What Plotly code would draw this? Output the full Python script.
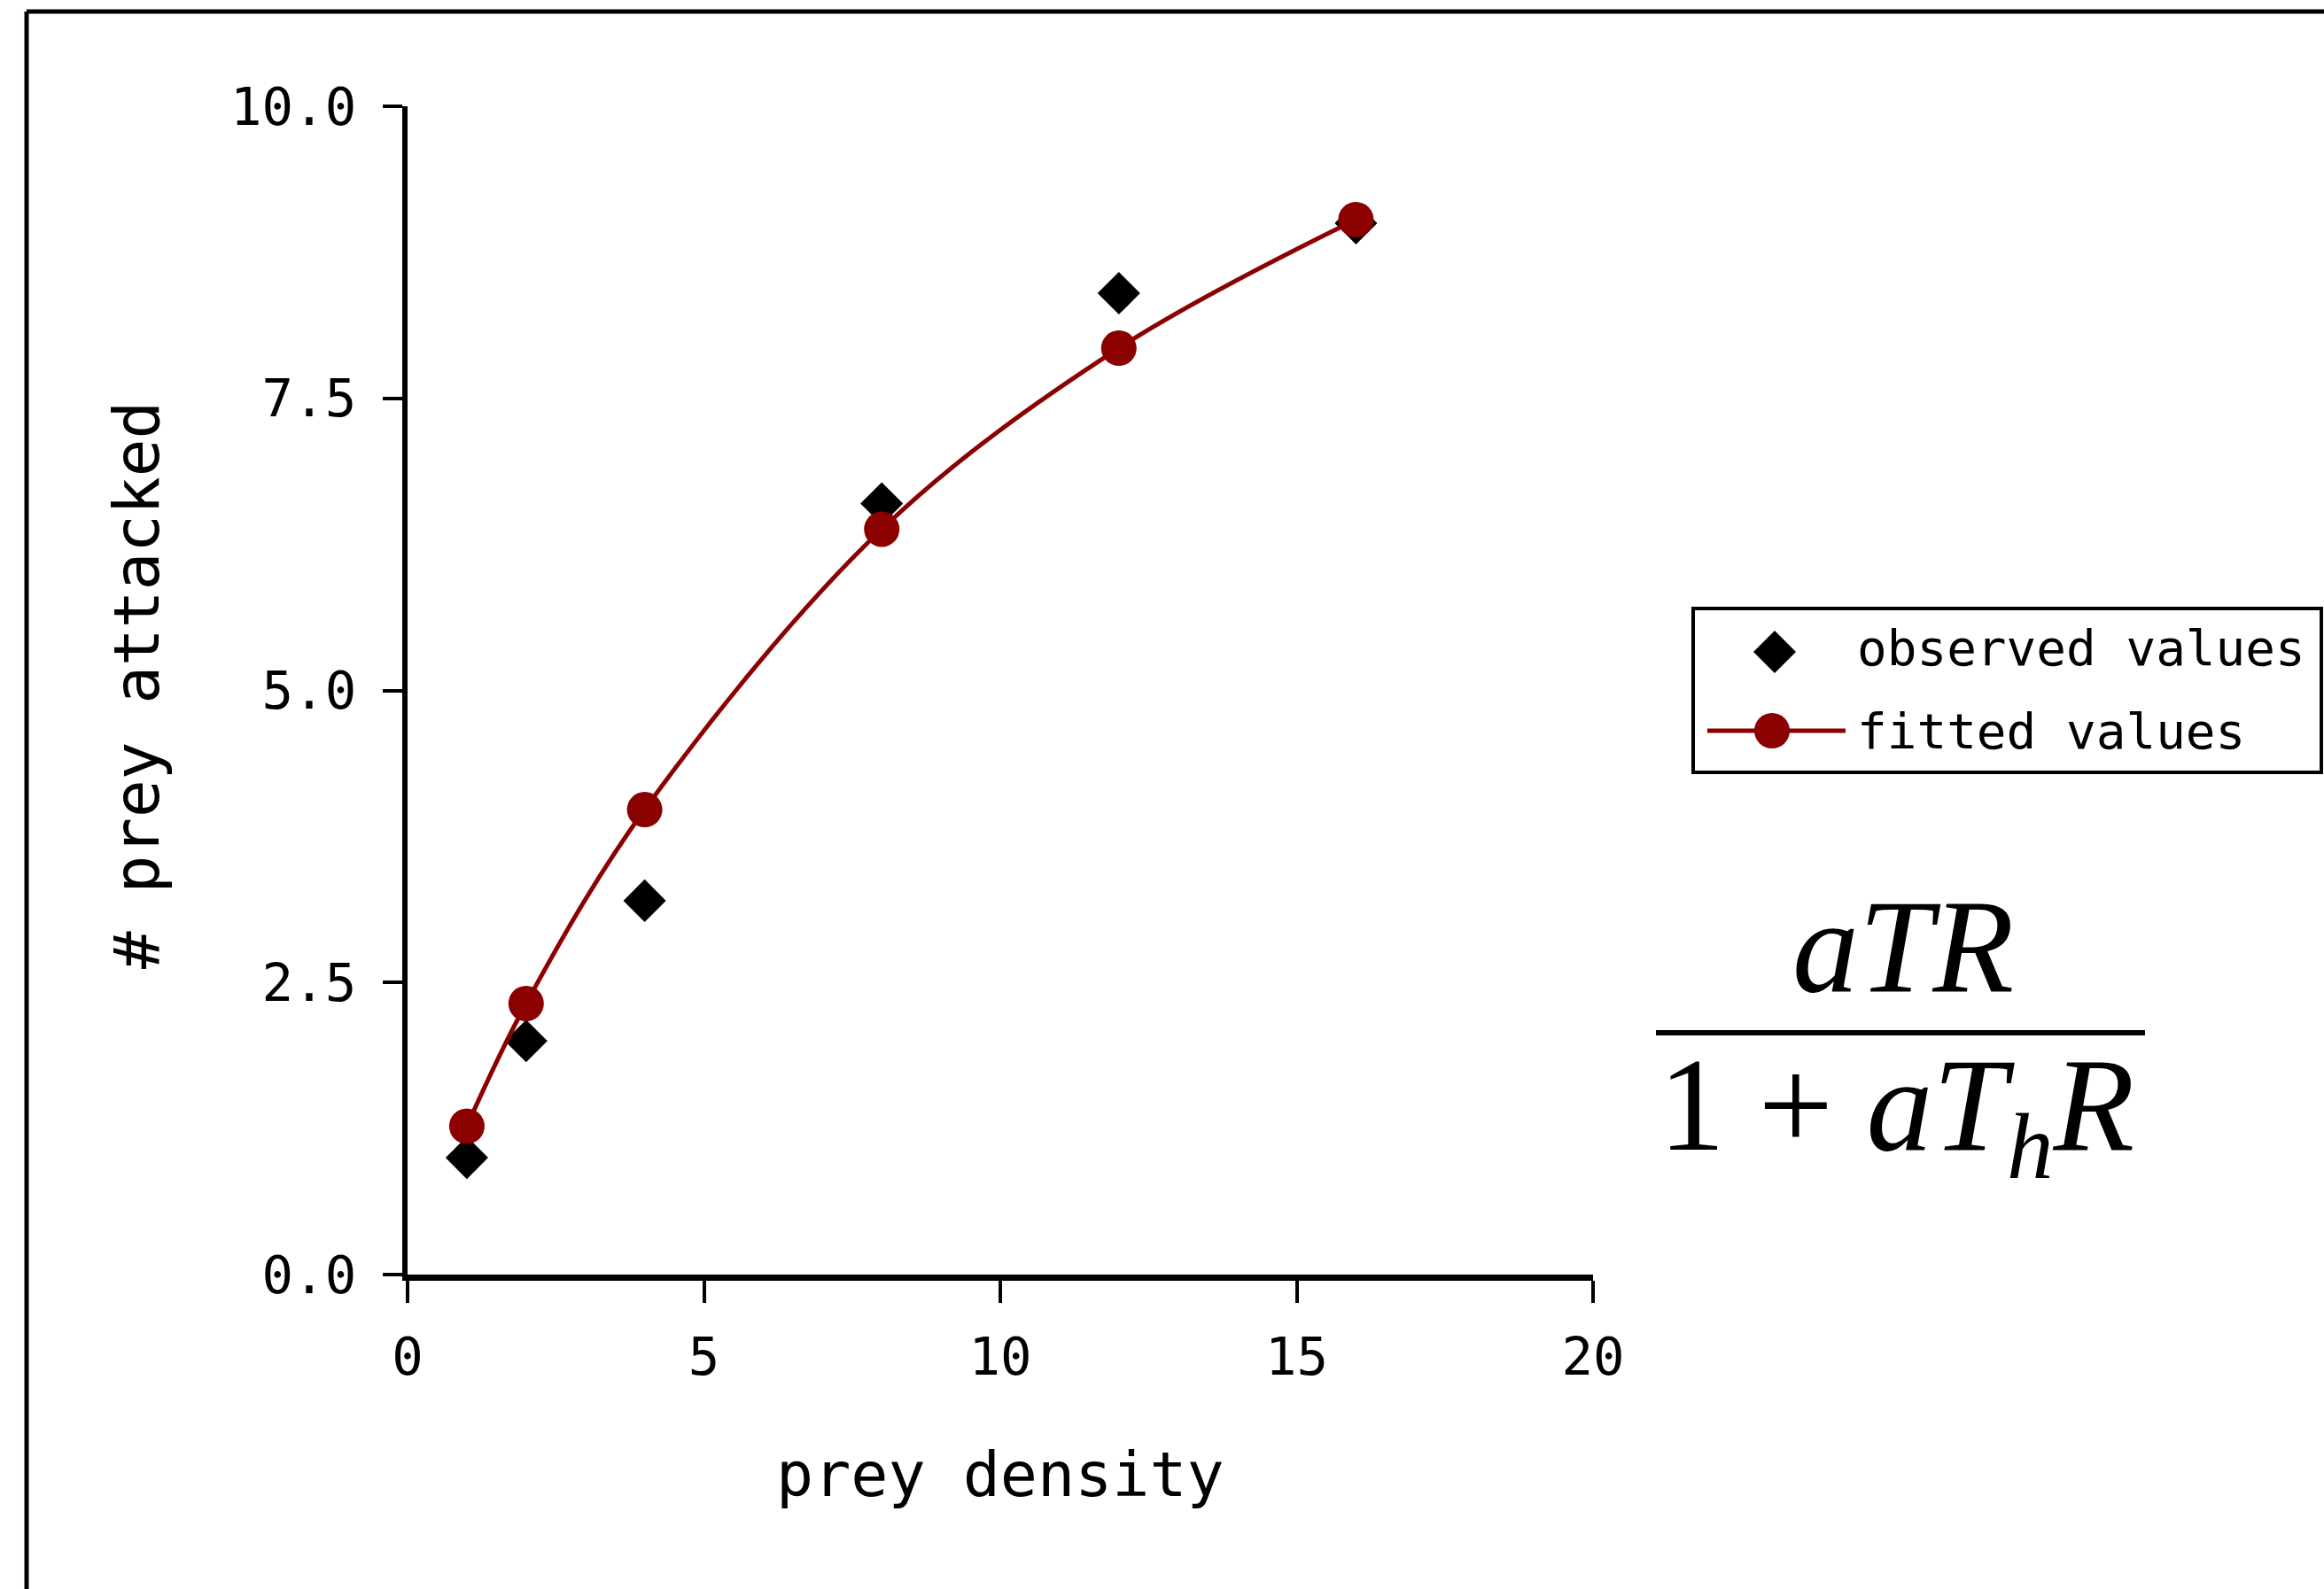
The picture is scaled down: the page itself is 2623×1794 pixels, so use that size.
import plotly.graph_objects as go

# Prey density vs. number of prey attacked (Holling type II functional response)
prey_density = [1, 2, 4, 8, 12, 16]
observed_values = [1.0, 2.0, 3.2, 6.6, 8.4, 9.0]
fitted_values = [1.27, 2.32, 3.98, 6.38, 7.93, 9.03]

x_ticks = [0, 5, 10, 15, 20]
y_ticks = [0.0, 2.5, 5.0, 7.5, 10.0]
y_tick_text = ["0.0", "2.5", "5.0", "7.5", "10.0"]

FIG_W, FIG_H = 2623, 1794
PLOT_L, PLOT_R, PLOT_T, PLOT_B = 460, 1798, 120, 1439

DARK_RED = "#8b0000"
MONO = "DejaVu Sans Mono, Liberation Mono, monospace"
SERIF = "Liberation Serif, DejaVu Serif, serif"


def px(x):
    """Pixel column -> paper x."""
    return (x - PLOT_L) / (PLOT_R - PLOT_L)


def py(y):
    """Pixel row -> paper y."""
    return (PLOT_B - y) / (PLOT_B - PLOT_T)


fig = go.Figure()

fig.add_trace(go.Scatter(
    x=prey_density, y=observed_values, mode="markers", name="observed values",
    marker=dict(symbol="diamond", size=37, color="black", line=dict(width=0)),
    cliponaxis=False,
))
fig.add_trace(go.Scatter(
    x=prey_density, y=fitted_values, mode="lines+markers", name="fitted values",
    line=dict(color=DARK_RED, width=5, shape="spline", smoothing=1.0),
    marker=dict(symbol="circle", size=40, color=DARK_RED, line=dict(width=0)),
    cliponaxis=False,
))

shapes = []
# outer frame (top and left edges)
shapes.append(dict(type="line", xref="paper", yref="paper",
                   x0=px(30), x1=px(FIG_W + 10), y0=py(13), y1=py(13),
                   line=dict(color="black", width=5)))
shapes.append(dict(type="line", xref="paper", yref="paper",
                   x0=px(30), x1=px(30), y0=py(13), y1=py(FIG_H + 10),
                   line=dict(color="black", width=5)))

# legend box
shapes.append(dict(type="rect", xref="paper", yref="paper",
                   x0=px(1911), x1=px(2620), y0=py(687), y1=py(872),
                   line=dict(color="black", width=4), fillcolor="white"))
# legend glyph: diamond
cx, cy, hw = 2003, 736, 24
shapes.append(dict(type="path", xref="paper", yref="paper",
                   path=(f"M {px(cx - hw)},{py(cy)} L {px(cx)},{py(cy - hw)} "
                         f"L {px(cx + hw)},{py(cy)} L {px(cx)},{py(cy + hw)} Z"),
                   fillcolor="black", line=dict(width=0)))
# legend glyph: line with circle
shapes.append(dict(type="line", xref="paper", yref="paper",
                   x0=px(1927), x1=px(2083), y0=py(825), y1=py(825),
                   line=dict(color=DARK_RED, width=5)))
shapes.append(dict(type="circle", xref="paper", yref="paper",
                   x0=px(1980), x1=px(2020), y0=py(845), y1=py(805),
                   fillcolor=DARK_RED, line=dict(width=0)))

# fraction bar of the functional response formula
shapes.append(dict(type="line", xref="paper", yref="paper",
                   x0=px(1869), x1=px(2421), y0=py(1166), y1=py(1166),
                   line=dict(color="black", width=6)))

annotations = [
    dict(text="# prey attacked", xref="paper", yref="paper",
         x=px(154), y=py(774), textangle=-90, showarrow=False,
         xanchor="center", yanchor="middle",
         font=dict(family=MONO, size=71, color="black")),
    dict(text="prey density", xref="paper", yref="paper",
         x=px(1129), y=py(1665), showarrow=False,
         xanchor="center", yanchor="middle",
         font=dict(family=MONO, size=70, color="black")),
    dict(text="observed values", xref="paper", yref="paper",
         x=px(2094), y=py(731), showarrow=False,
         xanchor="left", yanchor="middle",
         font=dict(family=MONO, size=56, color="black")),
    dict(text="fitted values", xref="paper", yref="paper",
         x=px(2094), y=py(825), showarrow=False,
         xanchor="left", yanchor="middle",
         font=dict(family=MONO, size=56, color="black")),
    dict(text="<i>aTR</i>", xref="paper", yref="paper",
         x=px(2148), y=py(1068), showarrow=False,
         xanchor="center", yanchor="middle",
         font=dict(family=SERIF, size=150, color="black")),
    dict(text="1 + <i>aT</i><sub><i>h</i></sub><i>R</i>", xref="paper", yref="paper",
         x=px(2140), y=py(1258), showarrow=False,
         xanchor="center", yanchor="middle",
         font=dict(family=SERIF, size=150, color="black")),
]

fig.update_layout(
    width=FIG_W, height=FIG_H,
    margin=dict(l=PLOT_L, r=FIG_W - PLOT_R, t=PLOT_T, b=FIG_H - PLOT_B, pad=0),
    paper_bgcolor="white", plot_bgcolor="white",
    showlegend=False,
    shapes=shapes, annotations=annotations,
    xaxis=dict(range=[0, 20], tickvals=x_ticks, ticktext=[str(v) for v in x_ticks],
               showgrid=False, zeroline=False, showline=True,
               linecolor="black", linewidth=7,
               ticks="outside", ticklen=25, tickwidth=4, tickcolor="black",
               ticklabelstandoff=10,
               tickfont=dict(family=MONO, size=59, color="black"),
               fixedrange=True),
    yaxis=dict(range=[0, 10], tickvals=y_ticks, ticktext=y_tick_text,
               showgrid=False, zeroline=False, showline=True,
               linecolor="black", linewidth=6,
               ticks="outside", ticklen=22, tickwidth=4, tickcolor="black",
               ticklabelstandoff=18,
               tickfont=dict(family=MONO, size=59, color="black"),
               fixedrange=True),
)

fig.write_html("out.html")
